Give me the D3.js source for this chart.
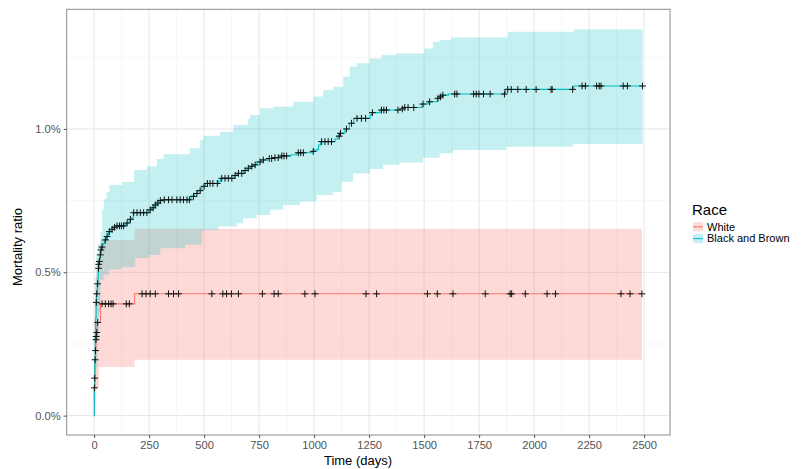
<!DOCTYPE html>
<html><head><meta charset="utf-8">
<script src="https://cdn.jsdelivr.net/npm/d3@7"></script>
<style>body{margin:0;background:#fff}text{font-family:"Liberation Sans",Arial,Helvetica,sans-serif}</style>
</head><body>
<svg id="c" width="811" height="469"></svg>
<script>
// ---------- data ----------
const groupNames = ["White", "Black and Brown"];
const groupColors = ["#F8766D", "#00BFC4"];
const xTicks = [0, 250, 500, 750, 1000, 1250, 1500, 1750, 2000, 2250, 2500];
const yTicks = [0, 0.5, 1.0];

const whiteTime = [0, 1, 2, 4, 6, 8, 9, 11, 14, 29, 184];
const whiteEst  = [0, 0.097, 0.131, 0.195, 0.227, 0.265, 0.276, 0.29, 0.325, 0.39, 0.425];
const whiteEnd = 2490;
const whiteLowT = [0, 1, 2, 4, 6, 8, 11, 22, 184];
const whiteLowV = [0, 0.015, 0.025, 0.045, 0.06, 0.075, 0.1, 0.17, 0.195];
const whiteUpT  = [0, 1, 2, 4, 6, 8, 11, 14, 29, 184];
const whiteUpV  = [0, 0.28, 0.33, 0.42, 0.45, 0.49, 0.51, 0.55, 0.613, 0.652];
const whiteCensor = [1.5, 2.5, 4.5, 6.5, 8.5, 9.5, 12, 16, 36, 51, 66, 77, 86, 146, 160, 218, 236, 255, 278, 338, 361, 384,
  535, 585, 602, 624, 656, 765, 818, 837, 958, 1004, 1236, 1284, 1515, 1560, 1631, 1778, 1891, 1898, 1960, 2059, 2097,
  2395, 2436, 2490];

const blackTime = [0, 1, 3, 5, 7, 9, 11, 14, 17, 19, 21, 23, 26, 30, 34, 40, 48, 57, 65, 78, 90, 100, 140, 148, 160, 172, 178,
  248, 262, 275, 285, 300, 315, 440, 455, 470, 490, 505, 565, 575, 636, 650, 680, 695, 710, 725, 740, 760, 790, 815, 845,
  895, 920, 990, 1000, 1020, 1030, 1095, 1105, 1115, 1140, 1160, 1180, 1255, 1262, 1300, 1395, 1404, 1490, 1520, 1560,
  1570, 1580, 1610, 1870, 2180];
const blackEst  = [0, 0.10, 0.20, 0.28, 0.34, 0.395, 0.425, 0.46, 0.48, 0.514, 0.528, 0.538, 0.561, 0.578, 0.588, 0.60,
  0.613, 0.625, 0.642, 0.65, 0.657, 0.662, 0.668, 0.672, 0.685, 0.69, 0.708, 0.718, 0.725, 0.735, 0.742, 0.75, 0.753,
  0.765, 0.775, 0.785, 0.80, 0.81, 0.818, 0.828, 0.838, 0.845, 0.855, 0.863, 0.87, 0.875, 0.885, 0.892, 0.897, 0.90,
  0.906, 0.91, 0.917, 0.922, 0.927, 0.944, 0.956, 0.965, 0.975, 0.985, 1.0, 1.02, 1.037, 1.05, 1.057, 1.066, 1.07,
  1.075, 1.087, 1.095, 1.107, 1.112, 1.118, 1.122, 1.138, 1.15];
const blackEnd = 2493;
const blackLowT = [0, 2, 5, 9, 15, 22, 29, 44, 66, 127, 187, 248, 301, 414, 490, 497, 565, 648, 678, 739, 800, 860, 936,
  1011, 1085, 1125, 1177, 1253, 1313, 1389, 1495, 1571, 1631, 1873, 2175];
const blackLowV = [0, 0.03, 0.1, 0.17, 0.26, 0.36, 0.474, 0.49, 0.51, 0.518, 0.55, 0.56, 0.584, 0.596, 0.642, 0.648, 0.66,
  0.671, 0.689, 0.70, 0.718, 0.735, 0.747, 0.77, 0.78, 0.816, 0.845, 0.86, 0.875, 0.883, 0.9, 0.915, 0.927, 0.938, 0.948];
const blackUpT  = [0, 2, 5, 10, 18, 29, 36, 44, 56, 70, 127, 182, 240, 286, 316, 435, 482, 497, 573, 633, 700, 709, 754,
  815, 905, 996, 1041, 1087, 1132, 1162, 1193, 1253, 1306, 1374, 1502, 1540, 1571, 1624, 1880, 2182];
const blackUpV  = [0, 0.35, 0.48, 0.56, 0.6, 0.64, 0.72, 0.755, 0.78, 0.805, 0.815, 0.857, 0.87, 0.895, 0.912, 0.933,
  0.962, 0.976, 0.99, 1.014, 1.035, 1.049, 1.072, 1.078, 1.095, 1.113, 1.136, 1.147, 1.182, 1.217, 1.229, 1.246, 1.258,
  1.263, 1.281, 1.304, 1.31, 1.319, 1.339, 1.348];
const blackCensor = [10, 12, 16, 20, 21, 24, 28, 31, 36, 51, 59, 69, 82, 93, 104, 115, 124, 134, 150, 165, 180, 195, 210,
  225, 240, 255, 268, 278, 290, 301, 319, 338, 354, 376, 391, 406, 422, 433, 452, 467, 482, 500, 515, 527, 540, 560, 580,
  595, 610, 626, 641, 656, 671, 686, 701, 717, 732, 754, 769, 796, 807, 822, 837, 853, 863, 875, 928, 939, 951, 996,
  1034, 1049, 1064, 1079, 1114, 1120, 1147, 1170, 1195, 1215, 1234, 1265, 1306, 1317, 1329, 1381, 1401, 1412, 1427, 1453,
  1495, 1525, 1563, 1574, 1585, 1639, 1649, 1725, 1737, 1749, 1770, 1800, 1865, 1880, 1896, 1926, 1964, 2009, 2077, 2082,
  2175, 2218, 2233, 2284, 2296, 2304, 2405, 2424, 2493];

// ---------- helpers ----------
function stepAt(ts, vs, t) {
  let v = vs[0];
  for (let i = 0; i < ts.length; i++) { if (ts[i] <= t) v = vs[i]; else break; }
  return v;
}
function buildGroup(time, est, end, lowT, lowV, upT, upV, censor) {
  const line = time.map((t, i) => [t, est[i]]).concat([[end, est[est.length - 1]]]);
  const allT = Array.from(new Set(lowT.concat(upT))).sort((a, b) => a - b).concat([end]);
  const ribbon = allT.map(t => ({ t, lo: stepAt(lowT, lowV, t), hi: stepAt(upT, upV, t) }));
  const marks = censor.map(t => [t, stepAt(time, est, t)]);
  return { line, ribbon, marks };
}
const groups = [
  buildGroup(whiteTime, whiteEst, whiteEnd, whiteLowT, whiteLowV, whiteUpT, whiteUpV, whiteCensor),
  buildGroup(blackTime, blackEst, blackEnd, blackLowT, blackLowV, blackUpT, blackUpV, blackCensor)
];

// ---------- layout ----------
const svg = d3.select("#c");
const P = { l: 66.7, r: 670, t: 9.3, b: 435 };
const xMax = Math.max(whiteEnd, blackEnd);
const yMax = 1.35;
const x = d3.scaleLinear().domain([-0.05 * xMax, 1.05 * xMax]).range([P.l, P.r]);
const y = d3.scaleLinear().domain([-0.05 * yMax, 1.05 * yMax]).range([P.b, P.t]);
const fillOpacity = [0.27, 0.23];

svg.append("rect").attr("x", P.l).attr("y", P.t).attr("width", P.r - P.l).attr("height", P.b - P.t).attr("fill", "#fff");

// grid
const g = svg.append("g");
const xMinor = d3.range(125, xMax * 1.05, 250);
const yMinor = [0.25, 0.75, 1.25];
g.selectAll(".xm").data(xMinor).join("line").attr("x1", d => x(d)).attr("x2", d => x(d)).attr("y1", P.t).attr("y2", P.b)
  .attr("stroke", "#f2f2f2").attr("stroke-width", 0.7);
g.selectAll(".ym").data(yMinor).join("line").attr("y1", d => y(d)).attr("y2", d => y(d)).attr("x1", P.l).attr("x2", P.r)
  .attr("stroke", "#f2f2f2").attr("stroke-width", 0.7);
g.selectAll(".xM").data(xTicks).join("line").attr("x1", d => x(d)).attr("x2", d => x(d)).attr("y1", P.t).attr("y2", P.b)
  .attr("stroke", "#e6e6e6").attr("stroke-width", 1);
g.selectAll(".yM").data(yTicks).join("line").attr("y1", d => y(d)).attr("y2", d => y(d)).attr("x1", P.l).attr("x2", P.r)
  .attr("stroke", "#e6e6e6").attr("stroke-width", 1);

// ribbons
const area = d3.area().curve(d3.curveStepAfter).x(d => x(d.t)).y0(d => y(d.lo)).y1(d => y(d.hi));
groups.forEach((gr, i) => {
  svg.append("path").datum(gr.ribbon).attr("d", area).attr("fill", groupColors[i]).attr("fill-opacity", fillOpacity[i]);
});
// lines
const line = d3.line().curve(d3.curveStepAfter).x(d => x(d[0])).y(d => y(d[1]));
groups.forEach((gr, i) => {
  svg.append("path").datum(gr.line).attr("d", line).attr("fill", "none").attr("stroke", groupColors[i]).attr("stroke-width", 1.1);
});
// censor marks
const s = 3.4;
groups.forEach(gr => {
  svg.append("g").selectAll("path").data(gr.marks).join("path")
    .attr("d", d => { const cx = x(d[0]), cy = y(d[1]); return `M${cx - s},${cy}H${cx + s}M${cx},${cy - s}V${cy + s}`; })
    .attr("stroke", "#111").attr("stroke-width", 1).attr("fill", "none");
});

// panel border
svg.append("rect").attr("x", P.l).attr("y", P.t).attr("width", P.r - P.l).attr("height", P.b - P.t)
  .attr("fill", "none").attr("stroke", "#8c8c8c").attr("stroke-width", 1);

// axes
const xAxis = svg.append("g").attr("transform", `translate(0,${P.b})`)
  .call(d3.axisBottom(x).tickValues(xTicks).tickSize(3).tickPadding(3).tickFormat(d3.format("d")));
const yAxis = svg.append("g").attr("transform", `translate(${P.l},0)`)
  .call(d3.axisLeft(y).tickValues(yTicks).tickSize(3).tickPadding(3).tickFormat(d => d.toFixed(1) + "%"));
[xAxis, yAxis].forEach(a => {
  a.select(".domain").remove();
  a.selectAll(".tick line").attr("stroke", "#555");
  a.selectAll(".tick text").attr("fill", "#555").style("font-size", "11.2px").style("font-family", "'Liberation Sans',Arial,sans-serif");
});

// axis titles
svg.append("text").attr("x", 358).attr("y", 465).attr("text-anchor", "middle")
  .style("font-size", "13px").attr("fill", "#000").text("Time (days)");
svg.append("text").attr("transform", `translate(22,247) rotate(-90)`).attr("text-anchor", "middle")
  .style("font-size", "13px").attr("fill", "#000").text("Mortality ratio");

// legend
const lg = svg.append("g");
lg.append("text").attr("x", 692).attr("y", 215).style("font-size", "15px").attr("fill", "#000").text("Race");
groupNames.forEach((name, i) => {
  const cy = 226.8 + i * 11.8;
  lg.append("rect").attr("x", 693).attr("y", cy - 4.5).attr("width", 10).attr("height", 9)
    .attr("fill", groupColors[i]).attr("fill-opacity", fillOpacity[i]);
  lg.append("line").attr("x1", 693).attr("x2", 703).attr("y1", cy).attr("y2", cy)
    .attr("stroke", groupColors[i]).attr("stroke-width", 1.1);
  lg.append("text").attr("x", 707).attr("y", cy + 3.8).style("font-size", "11px").attr("fill", "#000").text(name);
});
</script>
</body></html>
